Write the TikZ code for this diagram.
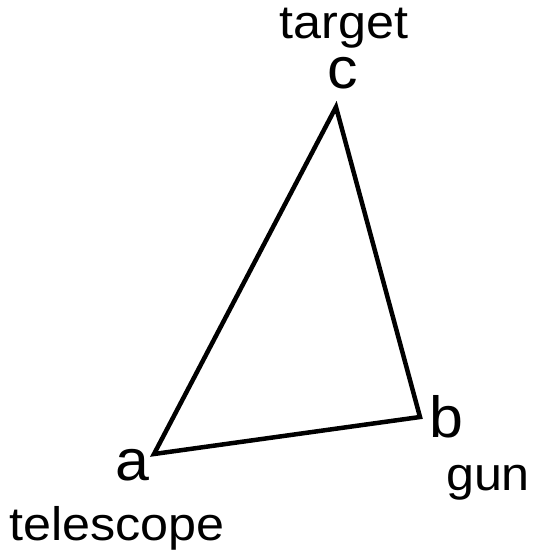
\documentclass[tikz,border=0pt]{standalone}
\usepackage{fontspec}
\setmainfont{Liberation Sans}
\begin{document}
\begin{tikzpicture}[x=1pt,y=-1pt,
  letter/.style={anchor=base,inner sep=0pt,font=\fontsize{58}{58}\selectfont,xscale=1.05},
  word/.style={anchor=base,inner sep=0pt,font=\fontsize{47}{47}\selectfont,xscale=1.07},
  edge/.style={line width=4.5pt,line join=miter}]
\useasboundingbox (0,0) rectangle (533,550);
\coordinate (a) at (154,454);
\coordinate (b) at (420,417);
\coordinate (c) at (336,107);
\draw[edge] (a) -- (b) -- (c) -- cycle;
\node[letter] (la) at (132,480) {a};
\node[letter] (lb) at (446,437) {b};
\node[letter] (lc) at (343,88) {c};
\node[word] (tel) at (117,540) {telescope};
\node[word] (tar) at (344,38) {target};
\node[word] (gun) at (488,490) {gun};
\end{tikzpicture}
\end{document}
